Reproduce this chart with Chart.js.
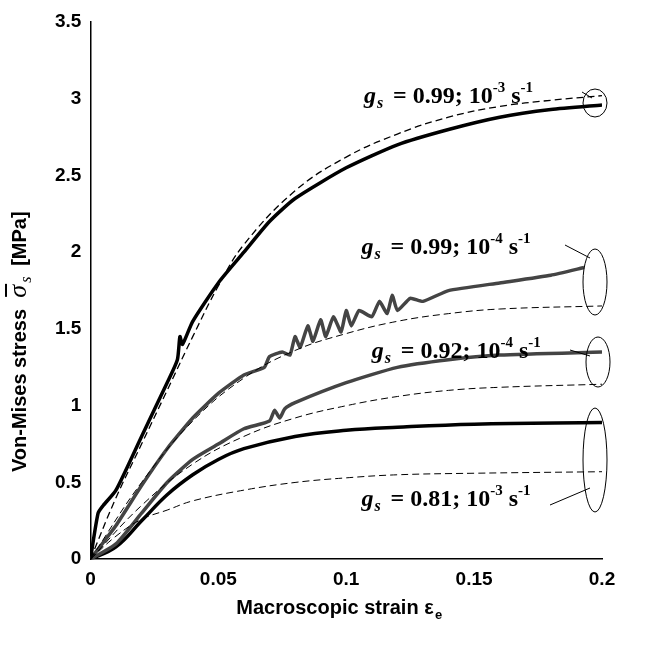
<!DOCTYPE html><html><head><script src="https://cdn.jsdelivr.net/npm/chart.js@4"></script>
<style>body{margin:0;background:#fff}#w{width:647px;height:648px}</style></head><body><div id="w"><canvas id="c"></canvas></div>
<script>
const s1x=[0,0.003,0.005,0.01,0.02,0.03,0.034,0.035,0.036,0.04,0.05,0.06,0.07,0.08,0.1,0.12,0.14,0.16,0.18,0.2];
const s1y=[0,0.3,0.35,0.45,0.8,1.15,1.3,1.45,1.4,1.55,1.8,2.0,2.2,2.35,2.55,2.7,2.8,2.88,2.93,2.96];
const d1x=[0,0.01,0.02,0.03,0.04,0.05,0.06,0.08,0.1,0.12,0.14,0.16,0.18,0.2];
const d1y=[0,0.4,0.75,1.1,1.45,1.78,2.05,2.4,2.62,2.77,2.88,2.95,2.99,3.02];
const s2x=[0,0.01,0.02,0.03,0.04,0.05,0.06,0.068,0.07,0.075,0.078,0.08,0.082,0.085,0.087,0.09,0.092,0.095,0.098,0.1,0.102,0.105,0.11,0.113,0.116,0.118,0.12,0.125,0.13,0.14,0.16,0.18,0.193];
const s2y=[0,0.22,0.48,0.72,0.92,1.08,1.2,1.25,1.32,1.35,1.33,1.45,1.38,1.52,1.42,1.56,1.45,1.58,1.48,1.62,1.52,1.62,1.58,1.68,1.6,1.72,1.62,1.7,1.68,1.75,1.8,1.85,1.9];
const d2x=[0,0.02,0.04,0.06,0.08,0.1,0.12,0.14,0.16,0.2];
const d2y=[0,0.5,0.9,1.18,1.36,1.47,1.55,1.6,1.63,1.65];
const s3x=[0,0.01,0.02,0.03,0.04,0.05,0.06,0.07,0.072,0.074,0.076,0.08,0.1,0.12,0.14,0.16,0.2];
const s3y=[0,0.1,0.3,0.5,0.65,0.75,0.85,0.9,0.97,0.92,0.98,1.02,1.15,1.25,1.3,1.33,1.35];
const d3x=[0,0.02,0.04,0.06,0.08,0.1,0.12,0.14,0.16,0.2];
const d3y=[0,0.35,0.62,0.8,0.92,1.0,1.06,1.1,1.12,1.14];
const s4x=[0,0.01,0.02,0.03,0.04,0.05,0.06,0.08,0.1,0.12,0.15,0.2];
const s4y=[0,0.08,0.25,0.42,0.55,0.65,0.72,0.8,0.84,0.86,0.88,0.89];
const d4x=[0,0.01,0.02,0.03,0.04,0.06,0.08,0.1,0.12,0.15,0.2];
const d4y=[0,0.15,0.26,0.32,0.38,0.45,0.5,0.53,0.55,0.56,0.57];
const xTicks=[0,0.05,0.1,0.15,0.2];
const yTicks=[0,0.5,1,1.5,2,2.5,3,3.5];
const xy=(a,b)=>a.map((v,i)=>({x:v,y:b[i]}));
const ds=(a,b,c,w,dash,t)=>({data:xy(a,b),borderColor:c,borderWidth:w,borderDash:dash||[],pointRadius:0,tension:t,fill:false});
const labels=[
 {t:"0.99; 10",e:"-3",x:0.107,y:2.97},{t:"0.99; 10",e:"-4",x:0.106,y:1.99},
 {t:"0.92; 10",e:"-4",x:0.110,y:1.31},{t:"0.81; 10",e:"-3",x:0.106,y:0.345}];
const ann={id:'ann',afterDraw(ch){const c=ch.ctx,X=ch.scales.x,Y=ch.scales.y;c.save();c.fillStyle='#000';c.strokeStyle='#000';c.lineWidth=1;
 labels.forEach(l=>{let px=X.getPixelForValue(l.x),py=Y.getPixelForValue(l.y);c.textBaseline='alphabetic';
  c.font='italic bold 24px "Liberation Serif"';c.fillText('g',px,py);let w=c.measureText('g').width;
  c.font='italic bold 16px "Liberation Serif"';c.fillText('s',px+w+1,py+5);w+=11;
  c.font='bold 24px "Liberation Serif"';let t=' = '+l.t;c.fillText(t,px+w,py);w+=c.measureText(t).width;
  c.font='bold 15px "Liberation Serif"';c.fillText(l.e,px+w,py-11);w+=c.measureText(l.e).width;
  c.font='bold 24px "Liberation Serif"';c.fillText(' s',px+w,py);w+=c.measureText(' s').width;
  c.font='bold 15px "Liberation Serif"';c.fillText('-1',px+w,py-11);});
 const el=(x,y,rx,ry)=>{c.beginPath();c.ellipse(x,y,rx,ry,0,0,7);c.stroke();};
 const ln=(x1,y1,x2,y2)=>{c.beginPath();c.moveTo(x1,y1);c.lineTo(x2,y2);c.stroke();};
 el(595,103,12,14);ln(582,92,592,98);
 el(595,282,12,33);ln(565,245,590,258);
 el(598,362,12,25);ln(570,350,590,356);
 el(595,460,12,52);ln(550,505,590,488);
 c.font='bold 20px Arial';c.textAlign='center';c.fillText('Macroscopic strain ε',335,614);
 let mw=c.measureText('Macroscopic strain ε').width;c.font='bold 13px Arial';c.fillText('e',335+mw/2+5,619);
 c.translate(26,290);c.rotate(-Math.PI/2);c.font='bold 20px Arial';c.textAlign='left';
 let t='Von-Mises stress  ',tw=c.measureText(t).width;let x0=-182;c.fillText(t,x0,0);
 c.font='italic 26px "Liberation Serif"';c.fillText('σ',x0+tw,0);c.fillRect(x0+tw+1,-21,13,2);
 c.font='italic 16px "Liberation Serif"';c.fillText('s',x0+tw+15,5);
 c.font='bold 20px Arial';c.fillText('[MPa]',x0+tw+32,0);c.restore();}};
new Chart(document.getElementById('c'),{type:'line',data:{datasets:[
 ds(d1x,d1y,'#000',1.3,[7,4],0.4),ds(d2x,d2y,'#000',1,[7,4],0.4),ds(d3x,d3y,'#000',1,[7,4],0.4),ds(d4x,d4y,'#000',1,[7,4],0.4),
 ds(s1x,s1y,'#000',3.5,[],0.2),ds(s2x,s2y,'#444',3.5,[],0.15),ds(s3x,s3y,'#444',3.5,[],0.2),ds(s4x,s4y,'#000',3.5,[],0.4)]},
 options:{animation:false,responsive:true,maintainAspectRatio:false,plugins:{legend:{display:false},tooltip:{enabled:false}},
 layout:{padding:{left:52,right:45,top:22,bottom:54}},
 scales:{x:{type:'linear',min:0,max:0.2,afterBuildTicks:a=>{a.ticks=xTicks.map(v=>({value:v}))},
  grid:{display:false,drawTicks:true,tickLength:6,tickColor:'#000'},border:{color:'#000',width:1.5},
  ticks:{color:'#000',font:{family:'Arial',size:19,weight:'bold'},callback:v=>String(v),maxRotation:0}},
 y:{min:0,max:3.5,afterBuildTicks:a=>{a.ticks=yTicks.map(v=>({value:v}))},
  grid:{display:false,tickLength:6,tickColor:'#000'},border:{color:'#000',width:1.5},
  ticks:{color:'#000',font:{family:'Arial',size:19,weight:'bold'},callback:v=>String(v)}}}},plugins:[ann]});
</script></body></html>
